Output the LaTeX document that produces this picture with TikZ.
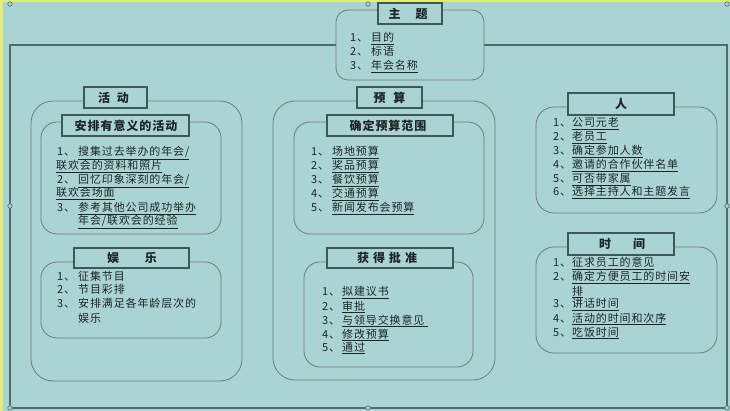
\documentclass[tikz,border=0pt]{standalone}
\usepackage{fontspec}
\newfontfamily\cjk[LetterSpace=8]{Noto Sans CJK SC}
\definecolor{bg}{HTML}{A9D4D3}
\definecolor{ylw}{HTML}{E4EC78}
\definecolor{frm}{HTML}{4F6B6B}
\definecolor{rbx}{HTML}{6F7C7C}
\definecolor{tbx}{HTML}{3E5858}
\definecolor{txt}{HTML}{1E2424}
\newcommand\nb[2]{\makebox[#1pt][l]{#2}}
\tikzset{
  rbox/.style={draw=rbx, line width=0.8pt, rounded corners=#1, inner sep=0, anchor=center},
  tbox/.style={draw=tbx, line width=1.2pt, fill=bg, inner sep=0, anchor=center},
  ttl/.style={inner sep=0, anchor=center, text=txt, font=\cjk\bfseries\fontsize{12}{14}\selectfont},
  itm/.style={inner sep=0, anchor=base west, text=txt, font=\cjk\fontsize{11}{13}\selectfont},
  hnd/.style={circle, draw=frm, fill=bg, line width=0.6pt, minimum size=4.5pt, inner sep=0},
}
\begin{document}
\begin{tikzpicture}[x=1pt,y=-1pt]
\useasboundingbox (0,0) rectangle (730,411);
\fill[bg] (0,0) rectangle (730,411);
\fill[ylw] (0,0) rectangle (730,2);
\fill[ylw] (0,0) rectangle (3,411);
% ---- theme box
\node[rbox=12pt, minimum width=148pt, minimum height=70pt] (zt) at (410,45) {};
% outer frame
\coordinate (fl) at (10,45);
\coordinate (fr) at (727,45);
\coordinate (bl) at (10,408);
\coordinate (br) at (727,408);
\draw[frm, line width=1.2pt] (zt.west) -- (fl) -- (bl) -- (br) -- (fr) -- (zt.east);
% handles
\node[hnd] (h1) at (10,4) {};
\node[hnd] (h2) at (368,4) {};
\node[hnd] (h3) at (727,4) {};
\node[hnd] (h4) at (10,206) {};
\node[hnd] (h5) at (727,206) {};
\node[hnd] (h6) at (10,408) {};
\node[hnd] (h7) at (368,408) {};
\node[hnd] (h8) at (727,408) {};
\node[tbox, minimum width=64pt, minimum height=21pt] (ztt) at (410,13.5) {};
\node[ttl] (zttx) at (408,14) {主\hspace{15pt}题};
\node[itm] (z1) at (350,42) {\nb{21}{1、}\underline{目的}};
\node[itm] (z2) at (350,56) {\nb{21}{2、}标语};
\node[itm] (z3) at (350,70) {\nb{21}{3、}\underline{年会名称}};
% ---- activities
\node[rbox=22pt, minimum width=211pt, minimum height=280pt] (ho) at (136.5,241) {};
\node[tbox, minimum width=63pt, minimum height=21pt] (hot) at (115.5,97.5) {};
\node[ttl] (hotx) at (113.5,97.5) {活\hspace{7pt}动};
\node[rbox=16pt, minimum width=180pt, minimum height=112pt] (ap) at (131,178) {};
\node[tbox, minimum width=127pt, minimum height=21pt] (apt) at (125.5,125.5) {};
\node[ttl] (aptx) at (126,125.5) {安排有意义的活动};
\node[itm] (a1) at (57,156) {\nb{21}{1、}\underline{搜集过去举办的年会/}};
\node[itm] (a1b) at (56,170) {\underline{联欢会的资料和照片}};
\node[itm] (a2) at (57,184) {\nb{21}{2、}\underline{回忆印象深刻的年会/}};
\node[itm] (a2b) at (56,197) {\underline{联欢会场面}};
\node[itm] (a3) at (57,212) {\nb{21}{3、}\underline{参考其他公司成功举办}};
\node[itm] (a3b) at (78,225) {\underline{年会/联欢会的经验}};
\node[rbox=16pt, minimum width=180pt, minimum height=76pt] (yl) at (131,300) {};
\node[tbox, minimum width=115pt, minimum height=20pt] (ylt) at (131.5,258) {};
\node[ttl] (yltx) at (132,258) {娱\hspace{26pt}乐};
\node[itm] (y1) at (57,280) {\nb{21}{1、}征集节目};
\node[itm] (y2) at (57,294) {\nb{21}{2、}节目彩排};
\node[itm] (y3) at (57,308) {\nb{21}{3、}安排满足各年龄层次的};
\node[itm] (y3b) at (78,322) {娱乐};
% ---- budget
\node[rbox=22pt, minimum width=222pt, minimum height=279pt] (bo) at (384,240.5) {};
\node[tbox, minimum width=65pt, minimum height=21pt] (bot) at (389.5,97.5) {};
\node[ttl] (botx) at (389.5,97.5) {预\hspace{8pt}算};
\node[rbox=16pt, minimum width=190pt, minimum height=112pt] (qd) at (389,178) {};
\node[tbox, minimum width=126pt, minimum height=21pt] (qdt) at (390,125.5) {};
\node[ttl] (qdtx) at (388,125.5) {确定预算范围};
\node[itm] (b1) at (311,156) {\nb{21}{1、}\underline{场地预算}};
\node[itm] (b2) at (311,170) {\nb{21}{2、}\underline{奖品预算}};
\node[itm] (b3) at (311,184) {\nb{21}{3、}\underline{餐饮预算}};
\node[itm] (b4) at (311,198) {\nb{21}{4、}\underline{交通预算}};
\node[itm] (b5) at (311,212) {\nb{21}{5、}\underline{新闻发布会预算}};
\node[rbox=16pt, minimum width=169pt, minimum height=105pt] (hd) at (388.5,314.5) {};
\node[tbox, minimum width=126pt, minimum height=20pt] (hdt) at (390,258) {};
\node[ttl] (hdtx) at (387,258) {获\hspace{4pt}得\hspace{4pt}批\hspace{4pt}准};
\node[itm] (p1) at (322,296) {\nb{20}{1、}\underline{拟建议书}};
\node[itm] (p2) at (322,310) {\nb{20}{2、}\underline{审批}};
\node[itm] (p3) at (322,324) {\nb{20}{3、}\underline{与领导交换意见\ }};
\node[itm] (p4) at (322,338) {\nb{20}{4、}\underline{修改预算}};
\node[itm] (p5) at (322,351) {\nb{20}{5、}\underline{通过}};
% ---- people
\node[rbox=18pt, minimum width=181pt, minimum height=106pt] (rr) at (626.5,160) {};
\node[tbox, minimum width=106pt, minimum height=22pt] (rrt) at (621,104) {};
\node[ttl] (rrtx) at (621,104) {人};
\node[itm] (r1) at (553,127) {\nb{19}{1、}\underline{公司元老}};
\node[itm] (r2) at (553,141) {\nb{19}{2、}\underline{老员工}};
\node[itm] (r3) at (553,155) {\nb{19}{3、}\underline{确定参加人数}};
\node[itm] (r4) at (553,169) {\nb{19}{4、}\underline{邀请的合作伙伴名单}};
\node[itm] (r5) at (553,183) {\nb{19}{5、}\underline{可否带家属}};
\node[itm] (r6) at (553,196) {\nb{19}{6、}\underline{选择主持人和主题发言}};
% ---- time
\node[rbox=18pt, minimum width=181pt, minimum height=106pt] (sj) at (626.5,300) {};
\node[tbox, minimum width=106pt, minimum height=22pt] (sjt) at (621,244) {};
\node[ttl] (sjtx) at (622,244) {时\hspace{22pt}间};
\node[itm] (s1) at (553,267) {\nb{19}{1、}\underline{征求员工的意见}};
\node[itm] (s2) at (553,281) {\nb{19}{2、}\underline{确定方便员工的时间安}};
\node[itm] (s2b) at (572,295) {\underline{排}};
\node[itm] (s3) at (553,308) {\nb{19}{3、}\underline{讲话时间}};
\node[itm] (s4) at (553,322) {\nb{19}{4、}\underline{活动的时间和次序}};
\node[itm] (s5) at (553,336) {\nb{19}{5、}\underline{吃饭时间}};
\end{tikzpicture}
\end{document}
